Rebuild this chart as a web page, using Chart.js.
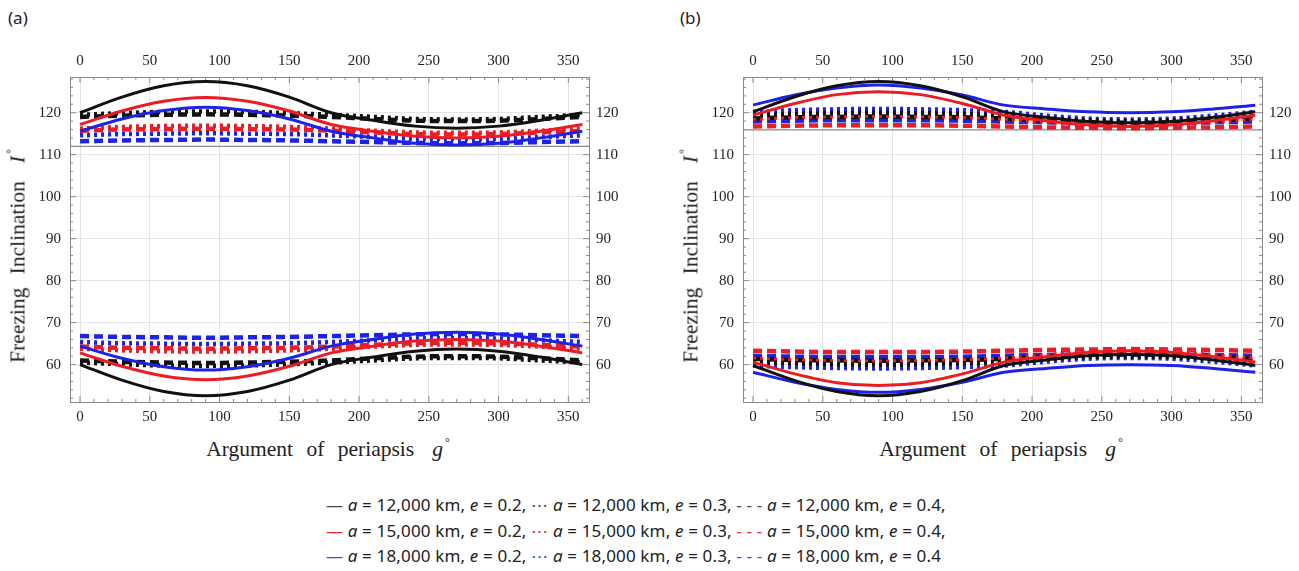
<!DOCTYPE html>
<html>
<head>
<meta charset="utf-8">
<script src="https://cdn.jsdelivr.net/npm/chart.js@4.4.1/dist/chart.umd.min.js"></script>
<style>
  body { margin: 0; width: 1299px; height: 571px; background: #fff; position: relative; overflow: hidden; font-family: 'Noto Sans', sans-serif; color: #222; }
  .tag { position: absolute; top: 6px; font-size: 17px; }
  canvas { position: absolute; top: 40px; }
  .ytitle, .xtitle { position: absolute; font-family: 'Liberation Serif', serif; font-size: 21.5px; white-space: nowrap; word-spacing: 8px; color: #222; }
  .ytitle { transform: translate(-50%, -50%) rotate(-90deg); }
  .xtitle { transform: translate(-50%, -50%); }
  .ytitle i, .xtitle i { margin-left: 18px; }
  .ytitle sup, .xtitle sup { font-size: 12px; vertical-align: 10px; margin-left: 2px; }
  .legend { position: absolute; left: 326px; top: 492px; font-size: 17px; letter-spacing: 0.15px; line-height: 25.5px; white-space: nowrap; }
  .legend i { font-style: italic; }
  .k { color: #444; } .r { color: #e8262b; } .b { color: #2a52e8; }
</style>
</head>
<body>
<div class="tag" style="left:8px">(a)</div>
<div class="tag" style="left:680px">(b)</div>
<canvas id="chartA" width="640" height="392" style="left:0px"></canvas>
<canvas id="chartB" width="626" height="392" style="left:673px"></canvas>
<div class="ytitle" style="left:17px; top:256px">Freezing Inclination<i>I</i><sup>°</sup></div>
<div class="ytitle" style="left:690px; top:256px">Freezing Inclination<i>I</i><sup>°</sup></div>
<div class="xtitle" style="left:328px; top:448px">Argument of periapsis<i>g</i><sup>°</sup></div>
<div class="xtitle" style="left:1001px; top:448px">Argument of periapsis<i>g</i><sup>°</sup></div>
<div class="legend">
  <div><span class="k">—</span> <i>a</i> = 12,000 km, <i>e</i> = 0.2, <span class="k">⋯</span> <i>a</i> = 12,000 km, <i>e</i> = 0.3, <span class="k">- - -</span> <i>a</i> = 12,000 km, <i>e</i> = 0.4,</div>
  <div><span class="r">—</span> <i>a</i> = 15,000 km, <i>e</i> = 0.2, <span class="r">⋯</span> <i>a</i> = 15,000 km, <i>e</i> = 0.3, <span class="r">- - -</span> <i>a</i> = 15,000 km, <i>e</i> = 0.4,</div>
  <div><span class="b">—</span> <i>a</i> = 18,000 km, <i>e</i> = 0.2, <span class="b">⋯</span> <i>a</i> = 18,000 km, <i>e</i> = 0.3, <span class="b">- - -</span> <i>a</i> = 18,000 km, <i>e</i> = 0.4</div>
</div>
<script>
// argument of periapsis g (deg) at which the curves were read
const gDeg = [0, 30, 60, 90, 120, 150, 180, 210, 240, 270, 300, 330, 360];
const xTicks = [0, 50, 100, 150, 200, 250, 300, 350];
const yTicks = [60, 70, 80, 90, 100, 110, 120];

// panel (a), upper branch
const aUp12e2 = [120.0, 123.7, 126.4, 127.4, 126.4, 123.7, 120.0, 118.2, 116.8, 116.3, 116.8, 118.2, 120.0];
const aUp12e3 = [119.5, 119.9, 120.2, 120.3, 120.2, 119.9, 119.5, 119.0, 118.5, 118.4, 118.5, 119.0, 119.5];
const aUp12e4 = [119.0, 119.3, 119.5, 119.6, 119.5, 119.3, 119.0, 118.5, 118.1, 118.0, 118.1, 118.5, 119.0];
const aUp15e2 = [117.2, 120.4, 122.7, 123.6, 122.7, 120.4, 117.2, 115.6, 114.4, 114.0, 114.4, 115.6, 117.2];
const aUp15e3 = [116.2, 116.6, 116.8, 116.9, 116.8, 116.6, 116.2, 115.7, 115.3, 115.2, 115.3, 115.7, 116.2];
const aUp15e4 = [115.7, 116.0, 116.1, 116.2, 116.1, 116.0, 115.7, 115.3, 114.9, 114.8, 114.9, 115.3, 115.7];
const aUp18e2 = [115.6, 118.5, 120.5, 121.3, 120.5, 118.5, 115.6, 114.0, 112.7, 112.3, 112.7, 114.0, 115.6];
const aUp18e3 = [114.6, 114.9, 115.0, 115.1, 115.0, 114.9, 114.6, 114.2, 113.8, 113.7, 113.8, 114.2, 114.6];
const aUp18e4 = [113.2, 113.4, 113.5, 113.6, 113.5, 113.4, 113.2, 113.0, 112.8, 112.7, 112.8, 113.0, 113.2];
// panel (a), lower branch
const aLo12e2 = [60.0, 56.3, 53.6, 52.6, 53.6, 56.3, 60.0, 61.8, 63.2, 63.7, 63.2, 61.8, 60.0];
const aLo12e3 = [60.5, 60.1, 59.8, 59.7, 59.8, 60.1, 60.5, 61.0, 61.5, 61.6, 61.5, 61.0, 60.5];
const aLo12e4 = [61.0, 60.7, 60.5, 60.4, 60.5, 60.7, 61.0, 61.5, 61.9, 62.0, 61.9, 61.5, 61.0];
const aLo15e2 = [62.8, 59.6, 57.3, 56.4, 57.3, 59.6, 62.8, 64.4, 65.6, 66.0, 65.6, 64.4, 62.8];
const aLo15e3 = [63.8, 63.4, 63.2, 63.1, 63.2, 63.4, 63.8, 64.3, 64.7, 64.8, 64.7, 64.3, 63.8];
const aLo15e4 = [64.3, 64.0, 63.9, 63.8, 63.9, 64.0, 64.3, 64.7, 65.1, 65.2, 65.1, 64.7, 64.3];
const aLo18e2 = [64.4, 61.5, 59.5, 58.7, 59.5, 61.5, 64.4, 66.0, 67.3, 67.7, 67.3, 66.0, 64.4];
const aLo18e3 = [65.4, 65.1, 65.0, 64.9, 65.0, 65.1, 65.4, 65.8, 66.2, 66.3, 66.2, 65.8, 65.4];
const aLo18e4 = [66.8, 66.6, 66.5, 66.4, 66.5, 66.6, 66.8, 67.0, 67.2, 67.3, 67.2, 67.0, 66.8];

// panel (b), upper branch
const bUp12e2 = [120.2, 123.8, 126.4, 127.4, 126.4, 123.8, 120.2, 118.9, 117.9, 117.6, 117.9, 118.9, 120.2];
const bUp12e3 = [119.3, 119.7, 119.9, 120.0, 119.9, 119.7, 119.3, 118.7, 118.2, 118.0, 118.2, 118.7, 119.3];
const bUp12e4 = [118.6, 118.9, 119.0, 119.1, 119.0, 118.9, 118.6, 118.1, 117.7, 117.6, 117.7, 118.1, 118.6];
const bUp15e2 = [119.4, 122.2, 124.3, 125.0, 124.3, 122.2, 119.4, 118.1, 117.1, 116.7, 117.1, 118.1, 119.4];
const bUp15e3 = [118.6, 119.0, 119.2, 119.3, 119.2, 119.0, 118.6, 117.8, 117.1, 116.9, 117.1, 117.8, 118.6];
const bUp15e4 = [116.7, 116.9, 117.0, 117.0, 117.0, 116.9, 116.7, 116.5, 116.4, 116.3, 116.4, 116.5, 116.7];
const bUp18e2 = [121.8, 124.2, 125.9, 126.6, 125.9, 124.2, 121.8, 120.9, 120.2, 120.0, 120.2, 120.9, 121.8];
const bUp18e3 = [120.2, 120.6, 120.8, 120.9, 120.8, 120.6, 120.2, 119.3, 118.6, 118.4, 118.6, 119.3, 120.2];
const bUp18e4 = [117.9, 118.1, 118.2, 118.2, 118.2, 118.1, 117.9, 117.7, 117.6, 117.5, 117.6, 117.7, 117.9];
// panel (b), lower branch
const bLo12e2 = [59.8, 56.2, 53.6, 52.6, 53.6, 56.2, 59.8, 61.1, 62.1, 62.4, 62.1, 61.1, 59.8];
const bLo12e3 = [60.7, 60.3, 60.1, 60.0, 60.1, 60.3, 60.7, 61.3, 61.8, 62.0, 61.8, 61.3, 60.7];
const bLo12e4 = [61.4, 61.1, 61.0, 60.9, 61.0, 61.1, 61.4, 61.9, 62.3, 62.4, 62.3, 61.9, 61.4];
const bLo15e2 = [60.6, 57.8, 55.7, 55.0, 55.7, 57.8, 60.6, 61.9, 62.9, 63.3, 62.9, 61.9, 60.6];
const bLo15e3 = [61.4, 61.0, 60.8, 60.7, 60.8, 61.0, 61.4, 62.2, 62.9, 63.1, 62.9, 62.2, 61.4];
const bLo15e4 = [63.3, 63.1, 63.0, 63.0, 63.0, 63.1, 63.3, 63.5, 63.6, 63.7, 63.6, 63.5, 63.3];
const bLo18e2 = [58.2, 55.8, 54.1, 53.4, 54.1, 55.8, 58.2, 59.1, 59.8, 60.0, 59.8, 59.1, 58.2];
const bLo18e3 = [59.8, 59.4, 59.2, 59.1, 59.2, 59.4, 59.8, 60.7, 61.4, 61.6, 61.4, 60.7, 59.8];
const bLo18e4 = [62.1, 61.9, 61.8, 61.8, 61.8, 61.9, 62.1, 62.3, 62.4, 62.5, 62.4, 62.3, 62.1];

// level of the dark horizontal axis line in each panel
const axisLevelA = 112.0;
const axisLevelB = 115.9;

const BLACK = '#111111', RED = '#ec1c24', BLUE = '#1e22e6';
const SOLID = [], DOTTED = [3, 4], DASHED = [9, 5];

// solid curves first so they sit on top
const styles = [
  { color: BLACK, dash: SOLID }, { color: RED, dash: SOLID }, { color: BLUE, dash: SOLID },
  { color: BLACK, dash: DOTTED }, { color: RED, dash: DOTTED }, { color: BLUE, dash: DOTTED },
  { color: BLACK, dash: DASHED }, { color: RED, dash: DASHED }, { color: BLUE, dash: DASHED }
];

function buildSets(curves) {
  const sets = [];
  curves.forEach((pair, i) => {
    const st = styles[i];
    pair.forEach(vals => {
      sets.push({
        data: gDeg.map((g, j) => ({ x: g, y: vals[j] })),
        borderColor: st.color,
        borderDash: st.dash,
        borderWidth: st.dash.length ? 4.5 : 3,
        pointRadius: 0,
        fill: false
      });
    });
  });
  return sets;
}

const setsA = buildSets([
  [aUp12e2, aLo12e2], [aUp15e2, aLo15e2], [aUp18e2, aLo18e2],
  [aUp12e3, aLo12e3], [aUp15e3, aLo15e3], [aUp18e3, aLo18e3],
  [aUp12e4, aLo12e4], [aUp15e4, aLo15e4], [aUp18e4, aLo18e4]
]);
const setsB = buildSets([
  [bUp12e2, bLo12e2], [bUp15e2, bLo15e2], [bUp18e2, bLo18e2],
  [bUp12e3, bLo12e3], [bUp15e3, bLo15e3], [bUp18e3, bLo18e3],
  [bUp12e4, bLo12e4], [bUp15e4, bLo15e4], [bUp18e4, bLo18e4]
]);

// inward frame ticks and the horizontal axis line
const framePlugin = {
  id: 'frame',
  beforeDatasetsDraw(chart, args, opts) {
    const { ctx, chartArea: ca, scales: { x, y } } = chart;
    ctx.save();
    const py = y.getPixelForValue(opts.axisLevel);
    ctx.strokeStyle = '#8a8a8a';
    ctx.lineWidth = 1.3;
    ctx.beginPath(); ctx.moveTo(ca.left, py); ctx.lineTo(ca.right, py); ctx.stroke();
    ctx.lineWidth = 1;
    ctx.beginPath();
    for (let v = -10; v <= 370; v += 10) {
      const px = x.getPixelForValue(v);
      if (px < ca.left || px > ca.right) continue;
      const len = v % 50 === 0 ? 6 : 3;
      ctx.moveTo(px, ca.bottom); ctx.lineTo(px, ca.bottom - len);
      ctx.moveTo(px, ca.top); ctx.lineTo(px, ca.top + len);
    }
    for (let v = 52; v <= 128; v += 2) {
      const p = y.getPixelForValue(v);
      const len = v % 10 === 0 ? 6 : 3;
      ctx.moveTo(ca.left, p); ctx.lineTo(ca.left + len, p);
      ctx.moveTo(ca.right, p); ctx.lineTo(ca.right - len, p);
    }
    ctx.stroke();
    ctx.restore();
  }
};

const tickFont = { family: "'Liberation Serif', 'Times New Roman', serif", size: 15 };

function xAxis(position, size, pad) {
  return {
    type: 'linear', position, min: -7.2, max: 364.8,
    afterBuildTicks: s => { s.ticks = xTicks.map(v => ({ value: v })); },
    afterFit: s => { s.height = size; },
    grid: { display: position === 'bottom', color: '#e4e4e4', drawTicks: false },
    border: { display: true, color: '#8a8a8a', width: 1 },
    ticks: { padding: pad, color: '#222', font: tickFont, maxRotation: 0 }
  };
}

function yAxis(position, size, pad) {
  return {
    type: 'linear', position, min: 51.1, max: 128.5,
    afterBuildTicks: s => { s.ticks = yTicks.map(v => ({ value: v })); },
    afterFit: s => { s.width = size; },
    grid: { display: position === 'left', color: '#e4e4e4', drawTicks: false },
    border: { display: true, color: '#8a8a8a', width: 1 },
    ticks: { padding: pad, color: '#222', font: tickFont }
  };
}

function makeChart(id, datasets, axisLevel, rightSize) {
  return new Chart(document.getElementById(id), {
    type: 'line',
    data: { datasets },
    options: {
      responsive: false,
      animation: false,
      events: [],
      layout: { padding: 0 },
      elements: { line: { cubicInterpolationMode: 'monotone', borderCapStyle: 'butt' } },
      plugins: { legend: { display: false }, tooltip: { enabled: false }, frame: { axisLevel } },
      scales: {
        x: xAxis('bottom', 30, 6),
        x2: xAxis('top', 37, 7),
        y: yAxis('left', 70, 9),
        y2: yAxis('right', rightSize, 7)
      }
    },
    plugins: [framePlugin]
  });
}

makeChart('chartA', setsA, axisLevelA, 51);
makeChart('chartB', setsB, axisLevelB, 37);
</script>
</body>
</html>
